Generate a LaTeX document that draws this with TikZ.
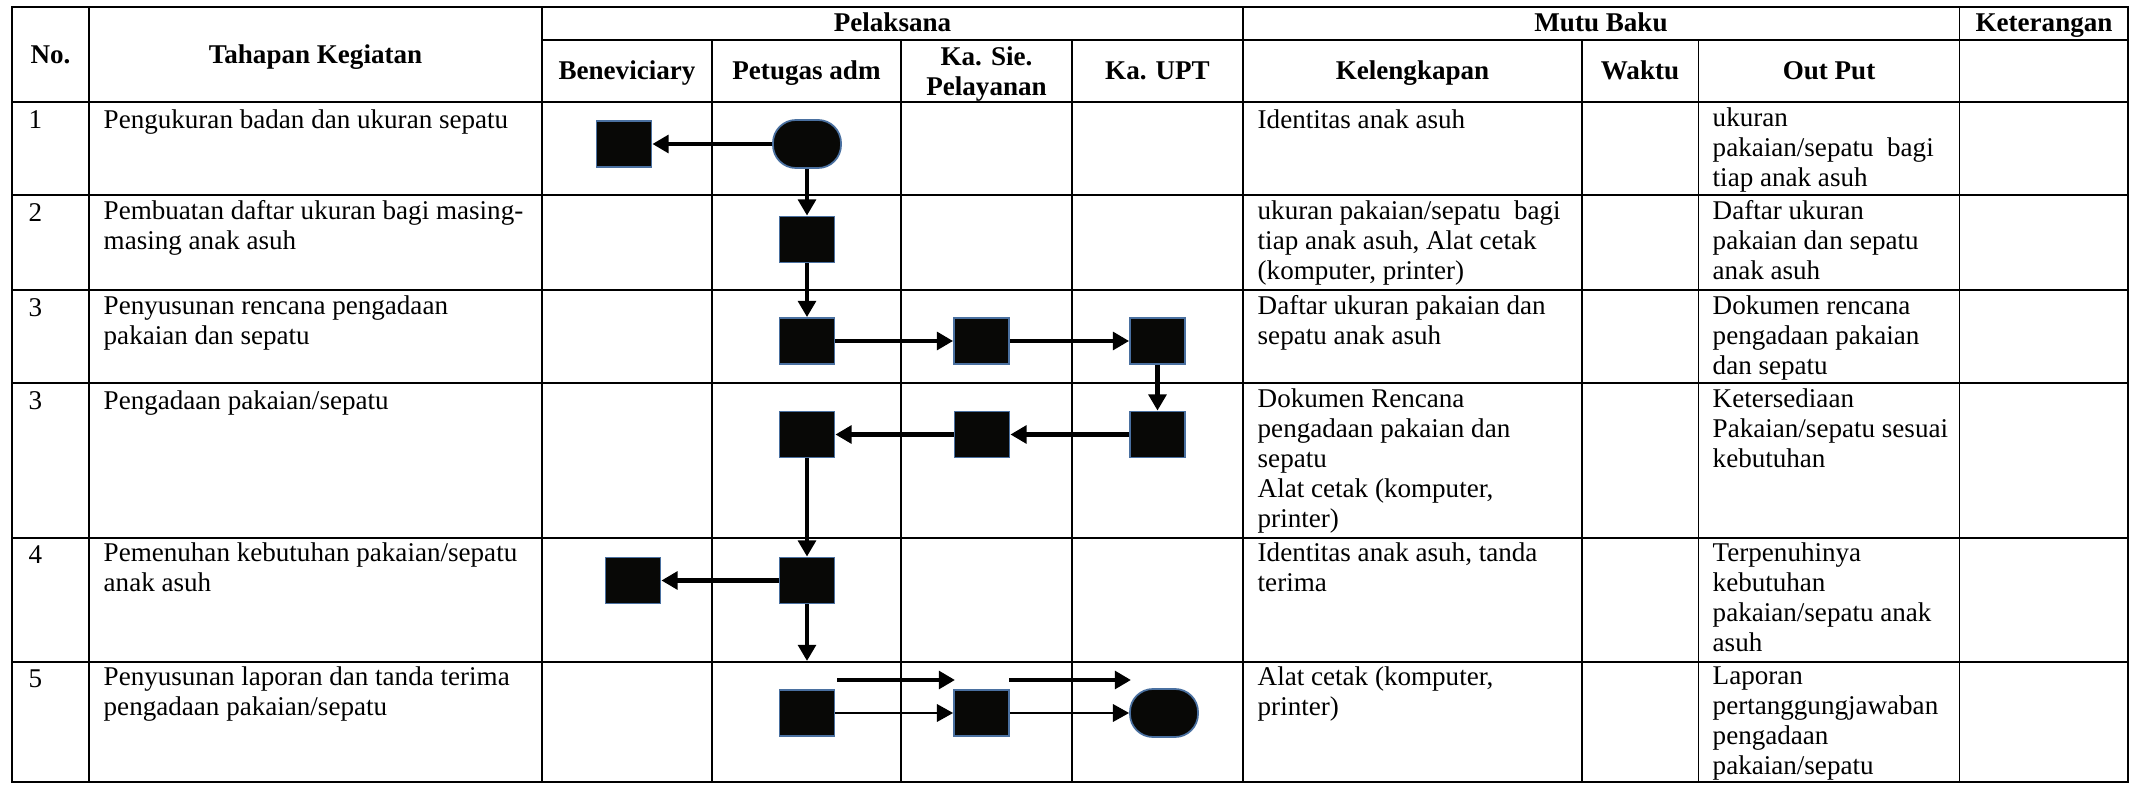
\documentclass[tikz,border=0pt]{standalone}
\usepackage{fontspec}
\setmainfont{Liberation Serif}
\usetikzlibrary{arrows.meta}
\definecolor{boxfill}{HTML}{080806}
\definecolor{boxedge}{HTML}{4A70A0}

\begin{document}
\begin{tikzpicture}[x=0.01cm,y=-0.01cm,
    font=\fontsize{7.7}{8.55}\selectfont,
    grid/.style={line width=0.55pt},
    head/.style={anchor=base,align=center,inner sep=0pt,font=\fontsize{7.7}{8.55}\selectfont\bfseries},
    cell/.style={anchor=north west,align=left,inner sep=0pt,execute at begin node=\strut},
    act/.style={draw=boxedge,fill=boxfill,line width=0.5pt,minimum width=0.55cm,minimum height=0.46cm,inner sep=0pt},
    term/.style={act,minimum width=0.68cm,minimum height=0.48cm,rounded corners=0.23cm},
    flow/.style={-{Triangle[length=4.6pt,width=5pt]},line width=1.15pt},
    thin/.style={-{Triangle[length=4.6pt,width=5pt]},line width=0.45pt}]
  \useasboundingbox (0,0) rectangle (2132,785);

  % table lines
  \draw[grid] (12,7) rectangle (2128,782);
  \draw[grid] (542,40) -- (2128,40);
  \foreach \y in {102,195,290,383,538,662}
    \draw[grid] (12,\y) -- (2128,\y);
  \foreach \x in {89,542,1243,1959.5}
    \draw[grid] (\x,7) -- (\x,782);
  \foreach \x in {712,901,1072,1582,1698.5}
    \draw[grid] (\x,40) -- (\x,782);

  % header
  \node[head] (hno) at (50.5,64) {No.};
  \node[head] (hkeg) at (315.5,64) {Tahapan Kegiatan};
  \node[head] (hpel) at (892.5,32) {Pelaksana};
  \node[head] (hmutu) at (1601,32) {Mutu Baku};
  \node[head] (hket) at (2044,32) {Keterangan};
  \node[head] (hben) at (627,80) {Beneviciary};
  \node[head] (hpet) at (806.5,80) {Petugas adm};
  \node[head] (hsie) at (986.5,96) {Ka. Sie.\\Pelayanan};
  \node[head] (hupt) at (1157.5,80) {Ka. UPT};
  \node[head] (hkel) at (1412.5,80) {Kelengkapan};
  \node[head] (hwak) at (1640,80) {Waktu};
  \node[head] (hout) at (1829,80) {Out Put};

  % row 1
  \node[cell] (no1) at (28,107) {1};
  \node[cell] (keg1) at (103,107) {Pengukuran badan dan ukuran sepatu};
  \node[cell] (kel1) at (1257,107) {Identitas anak asuh};
  \node[cell] (out1) at (1712,107) {ukuran\\pakaian/sepatu~ bagi\\tiap anak asuh};
  % row 2
  \node[cell] (no2) at (28,200) {2};
  \node[cell] (keg2) at (103,200) {Pembuatan daftar ukuran bagi masing-\\masing anak asuh};
  \node[cell] (kel2) at (1257,200) {ukuran pakaian/sepatu~ bagi\\tiap anak asuh, Alat cetak\\(komputer, printer)};
  \node[cell] (out2) at (1712,200) {Daftar ukuran\\pakaian dan sepatu\\anak asuh};
  % row 3
  \node[cell] (no3) at (28,295) {3};
  \node[cell] (keg3) at (103,295) {Penyusunan rencana pengadaan\\pakaian dan sepatu};
  \node[cell] (kel3) at (1257,295) {Daftar ukuran pakaian dan\\sepatu anak asuh};
  \node[cell] (out3) at (1712,295) {Dokumen rencana\\pengadaan pakaian\\dan sepatu};
  % row 4
  \node[cell] (no4) at (28,388) {3};
  \node[cell] (keg4) at (103,388) {Pengadaan pakaian/sepatu};
  \node[cell] (kel4) at (1257,388) {Dokumen Rencana\\pengadaan pakaian dan\\sepatu\\Alat cetak (komputer,\\printer)};
  \node[cell] (out4) at (1712,388) {Ketersediaan\\Pakaian/sepatu sesuai\\kebutuhan};
  % row 5
  \node[cell] (no5) at (28,542) {4};
  \node[cell] (keg5) at (103,542) {Pemenuhan kebutuhan pakaian/sepatu\\anak asuh};
  \node[cell] (kel5) at (1257,542) {Identitas anak asuh, tanda\\terima};
  \node[cell] (out5) at (1712,542) {Terpenuhinya\\kebutuhan\\pakaian/sepatu anak\\asuh};
  % row 6
  \node[cell] (no6) at (28,666) {5};
  \node[cell] (keg6) at (103,666) {Penyusunan laporan dan tanda terima\\pengadaan pakaian/sepatu};
  \node[cell] (kel6) at (1257,666) {Alat cetak (komputer,\\printer)};
  \node[cell] (out6) at (1712,666) {Laporan\\pertanggungjawaban\\pengadaan\\pakaian/sepatu};

  % flow symbols
  \node[act] (ben1) at (624,144) {};
  \node[term] (pet1) at (807,144) {};
  \node[act] (pet2) at (807,239.5) {};
  \node[act] (pet3) at (807,341) {};
  \node[act] (sie3) at (981.5,341) {};
  \node[act] (upt3) at (1157.5,341) {};
  \node[act] (upt4) at (1157.5,434.5) {};
  \node[act] (sie4) at (982,434.5) {};
  \node[act] (pet4) at (807,434.5) {};
  \node[act] (pet5) at (807,580.5) {};
  \node[act] (ben5) at (633,580.5) {};
  \node[act] (pet6) at (807,713) {};
  \node[act] (sie6) at (981.5,713) {};
  \node[term] (upt6) at (1164,713) {};
  \coordinate (down5) at (807,661);
  \coordinate (over1) at (837,680);
  \coordinate (over2) at (955,680);
  \coordinate (over3) at (1009,680);
  \coordinate (over4) at (1131,680);

  % connectors
  \draw[flow] (pet1) -- (ben1);
  \draw[flow] (pet1) -- (pet2);
  \draw[flow] (pet2) -- (pet3);
  \draw[flow] (pet3) -- (sie3);
  \draw[flow] (sie3) -- (upt3);
  \draw[flow] (upt3) -- (upt4);
  \draw[flow] (upt4) -- (sie4);
  \draw[flow] (sie4) -- (pet4);
  \draw[flow] (pet4) -- (pet5);
  \draw[flow] (pet5) -- (ben5);
  \draw[flow] (pet5) -- (down5);
  \draw[flow] (over1) -- (over2);
  \draw[flow] (over3) -- (over4);
  \draw[thin] (pet6) -- (sie6);
  \draw[thin] (sie6) -- (upt6);
\end{tikzpicture}
\end{document}
